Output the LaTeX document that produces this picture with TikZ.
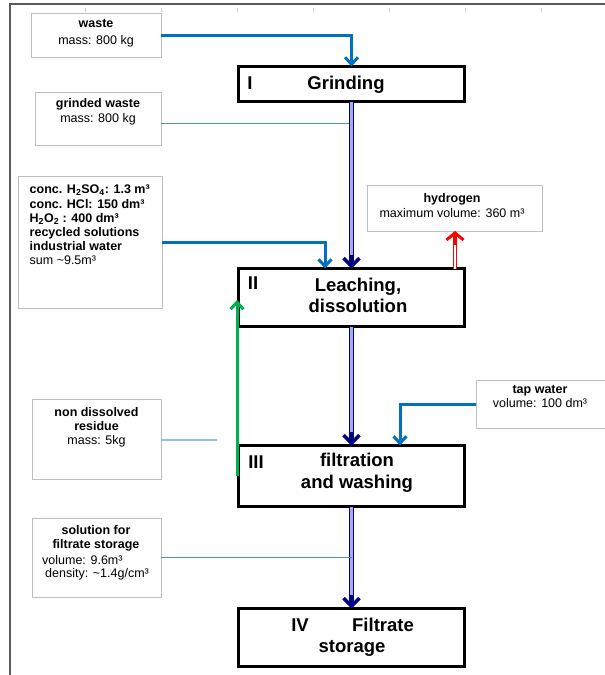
\documentclass[tikz,border=0pt]{standalone}
\usepackage{fontspec}
\setmainfont{Liberation Sans}
\usetikzlibrary{arrows.meta}
\definecolor{flowblue}{RGB}{0,112,192}
\definecolor{deepnavy}{RGB}{0,0,128}
\definecolor{flowgreen}{RGB}{0,176,80}
\definecolor{thinblueA}{RGB}{70,145,220}
\definecolor{thinblueB}{RGB}{150,190,235}
\definecolor{boxgray}{RGB}{191,191,191}
\definecolor{framegray}{RGB}{90,90,90}
\definecolor{navyin}{RGB}{170,170,230}
\begin{document}
\begin{tikzpicture}[x=1pt,y=-1pt,
  mainbox/.style={draw=black, line width=3pt, minimum width=226pt, outer sep=0pt, inner sep=0pt},
  labelbox/.style={draw=boxgray, line width=0.8pt, outer sep=0pt, inner sep=0pt},
  maintxt/.style={font=\fontsize{18.5}{21.5}\selectfont\bfseries, inner sep=0pt, align=center},
  labeltxt/.style={font=\fontsize{12.5}{14.2}\selectfont, inner sep=0pt, align=center},
  bluearrow/.style={draw=flowblue, line width=3pt, -{Straight Barb[length=7pt,width=13pt]}},
  greenarrow/.style={draw=flowgreen, line width=3pt, -{Straight Barb[length=7pt,width=13pt]}},
  navyshaft/.style={draw=deepnavy, double=navyin, line width=1.4pt, double distance=2.4pt},
  navytip/.style={draw=deepnavy, line width=3.5pt, -{Straight Barb[length=8pt,width=16pt]}},
  redshaft/.style={draw=red, double=white, line width=1pt, double distance=2pt},
  redtip/.style={draw=red, line width=3pt, -{Straight Barb[length=7pt,width=17pt]}},
  thinlineA/.style={draw=thinblueA, line width=1pt},
  thinlineB/.style={draw=thinblueB, line width=1.4pt},
  framestyle/.style={draw=framegray, line width=1.5pt},
  tickstyle/.style={draw=gray!40, line width=0.6pt}
]
\useasboundingbox (0,0) rectangle (605,675);

% frame
\coordinate (fa) at (10,675);
\coordinate (fb) at (10,4);
\coordinate (fc) at (606,4);
\draw[framestyle] (fa) -- (fb) -- (fc);
\foreach \tx in {85,161,237,313,389,465,541}{
  \coordinate (t1) at (\tx,8);
  \coordinate (t2) at (\tx,12);
  \draw[tickstyle] (t1) -- (t2);
}

% main process boxes
\node[mainbox, minimum height=35pt] (grind) at (351.5,84) {};
\node[maintxt, anchor=base] (grindI) at (250,89) {I};
\node[maintxt, anchor=base] (grindT) at (346,89) {Grinding};

\node[mainbox, minimum height=58pt] (leach) at (351.5,297.5) {};
\node[maintxt, anchor=base] (leachII) at (253,289.5) {II};
\node[maintxt] (leachT) at (358,295.5) {Leaching,\\dissolution};

\node[mainbox, minimum height=61pt] (filt) at (351.5,476) {};
\node[maintxt, anchor=base] (filtIII) at (256,468.5) {III};
\node[maintxt] (filtT) at (357,473) {filtration\\and washing};

\node[mainbox, minimum height=58pt] (store) at (351.5,637.5) {};
\node[maintxt, anchor=base] (storeIV) at (300,631.5) {IV};
\node[maintxt, anchor=base] (storeT1) at (383,631.5) {Filtrate};
\node[maintxt, anchor=base] (storeT2) at (352,652.5) {storage};

% label boxes
\node[labelbox, minimum width=130pt, minimum height=44pt] (waste) at (96,35) {};
\node[labeltxt, font=\fontsize{12.5}{17}\selectfont] (wasteT) at (96,33.5) {\textbf{waste}\\mass: 800 kg};

\node[labelbox, minimum width=126pt, minimum height=53pt] (grinded) at (98,118.5) {};
\node[labeltxt, font=\fontsize{12.5}{15}\selectfont] (grindedT) at (98,111.5) {\textbf{grinded waste}\\mass: 800 kg};

\node[labelbox, minimum width=144pt, minimum height=132pt] (chem) at (90,242) {};
\node[labeltxt, align=left, anchor=north west] (chemT) at (29.5,185) {%
\textbf{conc. H\textsubscript{2}SO\textsubscript{4}: 1.3 m³}\\
\textbf{conc. HCl: 150 dm³}\\
\textbf{H\textsubscript{2}O\textsubscript{2} : 400 dm³}\\
\textbf{recycled solutions}\\
\textbf{industrial water}\\
sum \textasciitilde9.5m³};

\node[labelbox, minimum width=175pt, minimum height=46pt] (hyd) at (455,208) {};
\node[labeltxt, font=\fontsize{12.5}{15}\selectfont] (hydT) at (452,205.5) {\textbf{hydrogen}\\maximum volume: 360 m³};

\node[labelbox, minimum width=129pt, minimum height=80pt] (resid) at (96.5,439) {};
\node[labeltxt] (residT) at (96.5,427.5) {\textbf{non dissolved}\\\textbf{residue}\\mass: 5kg};

\node[labelbox, minimum width=132pt, minimum height=48pt] (tap) at (542,404) {};
\node[labeltxt] (tapT) at (540,396.5) {\textbf{tap water}\\volume: 100 dm³};

\node[labelbox, minimum width=129pt, minimum height=79pt] (sol) at (96.5,557.5) {};
\node[labeltxt] (solT1) at (96,538) {\textbf{solution for}\\\textbf{filtrate storage}};
\node[labeltxt, align=left, anchor=west] (solT2) at (42,560) {volume: 9.6m³};
\node[labeltxt, align=left, anchor=west] (solT3) at (45,574) {density: \textasciitilde1.4g/cm³};

% connectors
\draw[bluearrow] (waste.east) -| (grind.north);
\draw[thinlineA] ([yshift=-4.5pt]grinded.east) -- ([yshift=-4.5pt]grinded.east -| grind.south);

\draw[navyshaft] (grind.south) -- ([yshift=4pt]leach.north);
\draw[navytip] ([yshift=14pt]leach.north) -- (leach.north);

\draw[bluearrow] (chem.east) -| ([xshift=-26.5pt]leach.north);

\draw[redshaft] (hyd.south |- leach.north) -- ([yshift=-5pt]hyd.south);
\draw[redtip] ([yshift=-14pt]hyd.south) -- (hyd.south);

\draw[navyshaft] (leach.south) -- ([yshift=4pt]filt.north);
\draw[navytip] ([yshift=14pt]filt.north) -- (filt.north);

\draw[bluearrow] (tap.west) -| ([xshift=48.5pt]filt.north);

\coordinate (residend) at (217,440);
\draw[thinlineB] (resid.east |- residend) -- (residend);

\draw[greenarrow] ([xshift=-1.5pt]filt.west) -- ([xshift=-1.5pt,yshift=-2.5pt]leach.west);

\draw[navyshaft] (filt.south) -- ([yshift=4pt]store.north);
\draw[navytip] ([yshift=14pt]store.north) -- (store.north);

\draw[thinlineA] (sol.east) -- (sol.east -| store.north);
\end{tikzpicture}
\end{document}
